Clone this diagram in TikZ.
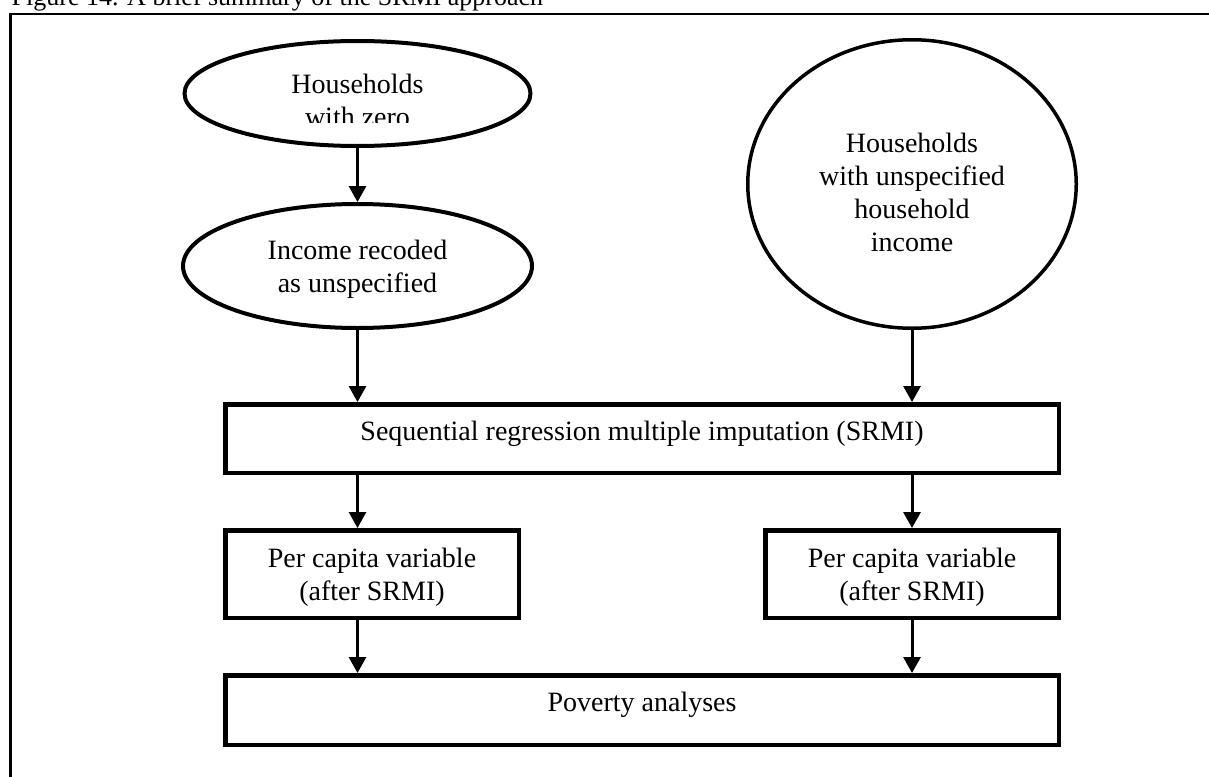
\documentclass[tikz,border=0pt]{standalone}
\usepackage{fontspec}
\setmainfont{Liberation Serif}
\usetikzlibrary{arrows.meta,shapes.geometric}
% first baseline of the lines is put #1 pt below the node centre
\newcommand\tlines[2]{\raisebox{-#1pt}[0pt][0pt]{\begin{tabular}[t]{@{}c@{}}#2\end{tabular}}}
\begin{document}
\begin{tikzpicture}[x=1pt,y=-1pt,
  every node/.style={font=\fontsize{28}{33}\selectfont},
  ellbox/.style={draw, ellipse, line width=4pt, inner sep=0pt},
  rectbox/.style={draw, rectangle, line width=4.5pt, inner sep=0pt},
  conn/.style={line width=3pt, -{Triangle[width=17pt,length=16pt]}},
  frameline/.style={line width=2.2pt}]
\useasboundingbox (0,0) rectangle (1209,776);
\fill[white] (0,0) rectangle (1209,776);
\clip (0,0) rectangle (1209,776);

% caption (cut at the top edge)
\node[anchor=base west, inner sep=0pt, font=\fontsize{26}{30}\selectfont] (cap) at (11.5,6) {Figure 14. A brief summary of the SRMI approach};
% frame (top and left sides)
\draw[frameline] (1215,13.8) -- (10.5,13.8) -- (10.5,780);

% shapes
\node[ellbox, minimum width=346pt, minimum height=105pt] (hz) at (357.5,93.5) {};
\begin{scope}
  \clip (150,0) rectangle (560,122);
  \node[inner sep=0pt] (hzt) at (hz.center) {\tlines{0}{Households\\with zero}};
\end{scope}
\node[ellbox, minimum width=349pt, minimum height=124pt] (inc) at (357.5,266)
  {\tlines{-7}{Income recoded\\as unspecified}};
\node[ellbox, line width=3.5pt, minimum width=328.5pt, minimum height=288.5pt] (hu) at (912,184)
  {\tlines{-32}{Households\\with unspecified\\household\\income}};
\node[rectbox, minimum width=833.5pt, minimum height=68.5pt] (srmi) at (642,438.5)
  {\tlines{1.5}{Sequential regression multiple imputation (SRMI)}};
\node[rectbox, minimum width=293.5pt, minimum height=87.5pt] (pcl) at (372,574)
  {\tlines{-7}{Per capita variable\\(after SRMI)}};
\node[rectbox, minimum width=293.5pt, minimum height=87.5pt] (pcr) at (912,574)
  {\tlines{-7}{Per capita variable\\(after SRMI)}};
\node[rectbox, minimum width=833.5pt, minimum height=69.5pt] (pov) at (642,710)
  {\tlines{1}{Poverty analyses}};

% connectors
\draw[conn] (hz.south) -- (inc.north);
\draw[conn] (inc.south) -- (inc.south |- srmi.north);
\draw[conn] (hu.south) -- (hu.south |- srmi.north);
\draw[conn] (inc.south |- srmi.south) -- (inc.south |- pcl.north);
\draw[conn] (pcr.north |- srmi.south) -- (pcr.north);
\draw[conn] (inc.south |- pcl.south) -- (inc.south |- pov.north);
\draw[conn] (pcr.south) -- (pcr.south |- pov.north);
\end{tikzpicture}
\end{document}
